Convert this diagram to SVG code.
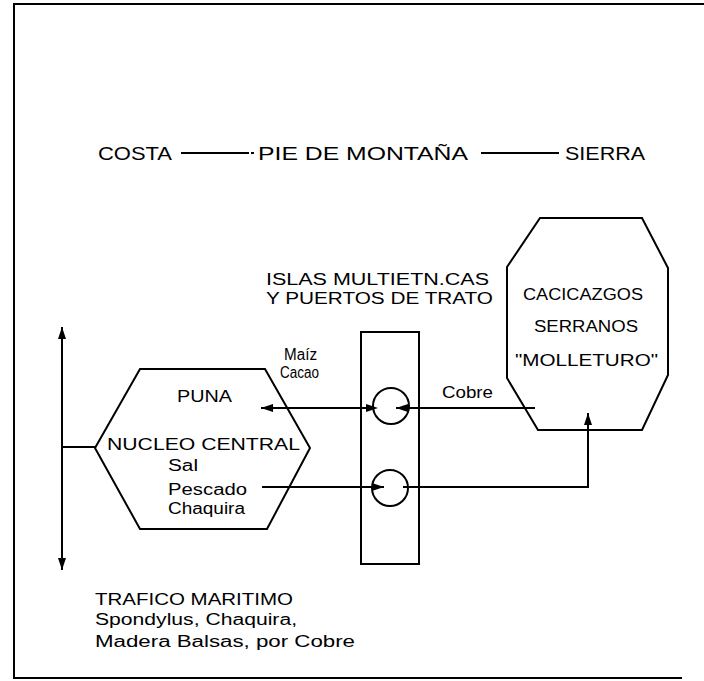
<svg xmlns="http://www.w3.org/2000/svg" width="704" height="681" viewBox="0 0 704 681">
<style>
.ln{stroke:#000;stroke-width:2;fill:none}
.sh{stroke:#000;stroke-width:2;fill:#fff}
text{font-family:"Liberation Sans",Arial,sans-serif;fill:#000}
.hd{font-size:19px}
.cap{font-size:16px}
.lc{font-size:16px}
</style>
<defs>
<marker id="ah" viewBox="0 0 12 8" refX="12" refY="4" markerWidth="12" markerHeight="8" markerUnits="userSpaceOnUse" orient="auto-start-reverse">
<path d="M0,0 L12,4 L0,8 Z" fill="#000"/>
</marker>
</defs>
<rect width="704" height="681" fill="#fff"/>
<g id="frame">
<path class="ln" d="M704,4 L14,4 L14,678 L682,678"/>
</g>
<g id="header">
<text class="hd" x="98" y="160" textLength="74" lengthAdjust="spacingAndGlyphs">COSTA</text>
<line class="ln" x1="181" y1="153" x2="249" y2="153"/>
<rect x="251" y="152" width="3" height="2" fill="#000"/>
<text class="hd" x="258" y="160" textLength="210" lengthAdjust="spacingAndGlyphs">PIE DE MONTAÑA</text>
<line class="ln" x1="481" y1="153" x2="559" y2="153"/>
<text class="hd" x="565" y="160" textLength="80" lengthAdjust="spacingAndGlyphs">SIERRA</text>
</g>
<g id="puna">
<polygon class="sh" points="140,369 265,369 310,448 267,529 140,529 95,448"/>
<text class="cap" x="177" y="402" textLength="55" lengthAdjust="spacingAndGlyphs">PUNA</text>
<text class="cap" x="107" y="450" textLength="193" lengthAdjust="spacingAndGlyphs">NUCLEO  CENTRAL</text>
<text class="lc" x="168" y="471" textLength="30" lengthAdjust="spacingAndGlyphs">Sal</text>
<text class="lc" x="168" y="495" textLength="79" lengthAdjust="spacingAndGlyphs">Pescado</text>
<text class="lc" x="168" y="514" textLength="77" lengthAdjust="spacingAndGlyphs">Chaquira</text>
</g>
<g id="islas">
<text class="cap" x="266" y="285" textLength="223" lengthAdjust="spacingAndGlyphs">ISLAS  MULTIETN.CAS</text>
<text class="cap" x="266" y="304" textLength="227" lengthAdjust="spacingAndGlyphs">Y PUERTOS DE TRATO</text>
<rect class="ln" x="361" y="332" width="58" height="232"/>
<circle class="ln" cx="391" cy="406" r="18"/>
<circle class="ln" cx="390" cy="488" r="18"/>
</g>
<g id="cacicazgos">
<polygon class="sh" points="540,218 642,218 668,268 668,375 642,430 538,430 507,378 507,267"/>
<text class="cap" x="523" y="300" textLength="120" lengthAdjust="spacingAndGlyphs">CACICAZGOS</text>
<text class="cap" x="534" y="332" textLength="104" lengthAdjust="spacingAndGlyphs">SERRANOS</text>
<text class="cap" x="515" y="366" textLength="143" lengthAdjust="spacingAndGlyphs">"MOLLETURO"</text>
</g>
<g id="trafico">
<text class="cap" x="95" y="605" textLength="198" lengthAdjust="spacingAndGlyphs">TRAFICO MARITIMO</text>
<text class="lc" x="95" y="625" textLength="202" lengthAdjust="spacingAndGlyphs">Spondylus, Chaquira,</text>
<text class="lc" x="95" y="647" textLength="260" lengthAdjust="spacingAndGlyphs">Madera Balsas, por Cobre</text>
</g>
<g id="connectors">
<line class="ln" x1="62" y1="327" x2="62" y2="570" marker-start="url(#ah)" marker-end="url(#ah)"/>
<line class="ln" x1="62" y1="447" x2="95" y2="447"/>
<line class="ln" x1="535" y1="408" x2="396" y2="408" marker-end="url(#ah)"/>
<line class="ln" x1="372" y1="408" x2="261" y2="408" marker-end="url(#ah)"/>
<path d="M366,404 L378,408 L366,412 Z" fill="#000"/>
<line class="ln" x1="262" y1="487" x2="384" y2="487" marker-end="url(#ah)"/>
<path class="ln" d="M403,487 L588,487 L588,413" marker-end="url(#ah)"/>
<text class="lc" x="284" y="360" textLength="33" lengthAdjust="spacingAndGlyphs">Maíz</text>
<text class="lc" x="280" y="378" textLength="39" lengthAdjust="spacingAndGlyphs">Cacao</text>
<text class="lc" x="442" y="398" textLength="51" lengthAdjust="spacingAndGlyphs">Cobre</text>
</g>
</svg>
